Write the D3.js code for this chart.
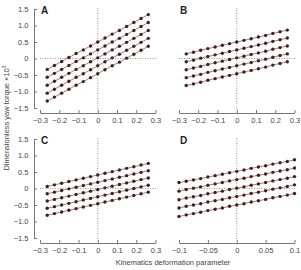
<!DOCTYPE html>
<html>
<head>
<meta charset="utf-8">
<script src="https://cdn.jsdelivr.net/npm/d3@7"></script>
<style>
    body { margin: 0; background: #fff; }
    svg { font-family: "Liberation Sans", Arial, sans-serif; }
    .axis path, .axis line { stroke: #777; }
    .axis text { fill: #444; font-size: 7.5px; }
    .ref { stroke: #999; stroke-dasharray: 1, 1.5; fill: none; }
    .fit { stroke: #e26a60; stroke-width: 1; fill: none; }
    .dot { fill: #2a2a2a; }
</style>
</head>
<body>
<svg width="301" height="270"></svg>
<script>
// x positions of the samples
var xWide = [-0.2625, -0.225, -0.1875, -0.15, -0.1125, -0.075, -0.0375, 0, 0.0375, 0.075, 0.1125, 0.15, 0.1875, 0.225, 0.2625];
var xNarrow = [-0.1, -0.0875, -0.075, -0.0625, -0.05, -0.0375, -0.025, -0.0125, 0, 0.0125, 0.025, 0.0375, 0.05, 0.0625, 0.075, 0.0875, 0.1];

var yTicks = [-1.5, -1.0, -0.5, 0, 0.5, 1.0, 1.5];
var xTicksWide = [-0.3, -0.2, -0.1, 0, 0.1, 0.2, 0.3];
var xTicksNarrow = [-0.1, -0.05, 0, 0.05, 0.1];

var seriesA = [
    [-0.33, -0.21, -0.09, 0.03, 0.15, 0.26, 0.38, 0.50, 0.62, 0.74, 0.85, 0.97, 1.09, 1.21, 1.33],
    [-0.57, -0.45, -0.33, -0.21, -0.09, 0.02, 0.14, 0.26, 0.38, 0.50, 0.61, 0.73, 0.85, 0.97, 1.09],
    [-0.81, -0.69, -0.57, -0.45, -0.33, -0.22, -0.10, 0.02, 0.14, 0.26, 0.37, 0.49, 0.61, 0.73, 0.85],
    [-1.05, -0.93, -0.81, -0.69, -0.57, -0.46, -0.34, -0.22, -0.10, 0.02, 0.13, 0.25, 0.37, 0.49, 0.61],
    [-1.29, -1.17, -1.05, -0.93, -0.81, -0.70, -0.58, -0.46, -0.34, -0.22, -0.11, 0.01, 0.13, 0.25, 0.37]
];
var seriesB = [
    [0.14, 0.19, 0.25, 0.30, 0.35, 0.40, 0.45, 0.50, 0.55, 0.60, 0.65, 0.70, 0.76, 0.81, 0.86],
    [-0.10, -0.05, 0.01, 0.06, 0.11, 0.16, 0.21, 0.26, 0.31, 0.36, 0.41, 0.46, 0.52, 0.57, 0.62],
    [-0.34, -0.29, -0.24, -0.18, -0.13, -0.08, -0.03, 0.02, 0.07, 0.12, 0.17, 0.22, 0.28, 0.33, 0.38],
    [-0.58, -0.53, -0.48, -0.42, -0.37, -0.32, -0.27, -0.22, -0.17, -0.12, -0.07, -0.02, 0.04, 0.09, 0.14],
    [-0.82, -0.77, -0.72, -0.66, -0.61, -0.56, -0.51, -0.46, -0.41, -0.36, -0.31, -0.26, -0.20, -0.15, -0.10]
];
var seriesC = [
    [0.06, 0.11, 0.16, 0.21, 0.26, 0.31, 0.36, 0.41, 0.46, 0.51, 0.56, 0.61, 0.66, 0.71, 0.76],
    [-0.16, -0.11, -0.06, -0.01, 0.04, 0.09, 0.14, 0.19, 0.24, 0.29, 0.34, 0.39, 0.44, 0.49, 0.54],
    [-0.38, -0.33, -0.28, -0.23, -0.18, -0.13, -0.08, -0.03, 0.02, 0.07, 0.12, 0.17, 0.22, 0.27, 0.32],
    [-0.60, -0.55, -0.50, -0.45, -0.40, -0.35, -0.30, -0.25, -0.20, -0.15, -0.10, -0.05, 0.00, 0.05, 0.10],
    [-0.81, -0.76, -0.71, -0.66, -0.61, -0.56, -0.51, -0.46, -0.41, -0.36, -0.31, -0.26, -0.21, -0.16, -0.11]
];
var seriesD = [
    [0.18, 0.22, 0.26, 0.30, 0.35, 0.39, 0.43, 0.48, 0.52, 0.56, 0.61, 0.65, 0.69, 0.74, 0.78, 0.82, 0.87],
    [-0.08, -0.03, 0.01, 0.05, 0.10, 0.14, 0.18, 0.23, 0.27, 0.31, 0.36, 0.40, 0.44, 0.49, 0.53, 0.57, 0.62],
    [-0.34, -0.29, -0.25, -0.21, -0.16, -0.12, -0.08, -0.03, 0.01, 0.05, 0.10, 0.14, 0.18, 0.23, 0.27, 0.31, 0.36],
    [-0.59, -0.54, -0.50, -0.46, -0.41, -0.37, -0.33, -0.28, -0.24, -0.20, -0.15, -0.11, -0.07, -0.02, 0.02, 0.06, 0.11],
    [-0.85, -0.80, -0.76, -0.72, -0.67, -0.63, -0.59, -0.54, -0.50, -0.46, -0.41, -0.37, -0.33, -0.28, -0.24, -0.20, -0.15]
];

var panels = [
    {label: "A", x: xWide, ys: seriesA, ticks: xTicksWide, dom: [-0.3, 0.3], left: 40, top: 9, yAxis: true},
    {label: "B", x: xWide, ys: seriesB, ticks: xTicksWide, dom: [-0.3, 0.3], left: 179, top: 9, yAxis: false},
    {label: "C", x: xWide, ys: seriesC, ticks: xTicksWide, dom: [-0.3, 0.3], left: 40, top: 139, yAxis: true},
    {label: "D", x: xNarrow, ys: seriesD, ticks: xTicksNarrow, dom: [-0.1, 0.1], left: 179, top: 139, yAxis: false}
];

var svg = d3.select("svg");
var plotW = 115.5, plotH = 99;

var fmtY = function(d) { return d === 0 ? "0" : d3.format(".1f")(d); };
var fmtX = function(d) { return d === 0 ? "0" : d3.format("~g")(d); };

panels.forEach(function(p) {
    var g = svg.append("g").attr("transform", "translate(" + p.left + "," + p.top + ")");

    var x = d3.scaleLinear().domain(p.dom).range([0, plotW]);
    var y = d3.scaleLinear().domain([-1.5, 1.5]).range([plotH, 0]);

    // reference lines
    g.append("line").attr("class", "ref")
        .attr("x1", x(p.dom[0])).attr("x2", x(p.dom[1]) + 1)
        .attr("y1", y(0)).attr("y2", y(0));
    g.append("line").attr("class", "ref")
        .attr("x1", x(0)).attr("x2", x(0))
        .attr("y1", y(1.5) - 1).attr("y2", y(-1.5) + 1);

    // axes
    g.append("g").attr("class", "axis")
        .attr("transform", "translate(0," + (plotH + 5) + ")")
        .call(d3.axisBottom(x).tickValues(p.ticks).tickFormat(fmtX)
            .tickSizeInner(-3).tickSizeOuter(0).tickPadding(4.5));
    if (p.yAxis) {
        g.append("g").attr("class", "axis")
            .attr("transform", "translate(-6,0)")
            .call(d3.axisLeft(y).tickValues(yTicks).tickFormat(fmtY)
                .tickSizeInner(-3).tickSizeOuter(0).tickPadding(5.5));
    }

    var line = d3.line()
        .x(function(d, i) { return x(p.x[i]); })
        .y(function(d) { return y(d); });

    p.ys.forEach(function(vals) {
        g.append("path").attr("class", "fit").attr("d", line(vals));
        g.selectAll(null)
            .data(vals)
            .enter()
            .append("circle")
            .attr("class", "dot")
            .attr("cx", function(d, i) { return x(p.x[i]); })
            .attr("cy", function(d) { return y(d); })
            .attr("r", 1.7);
    });

    g.append("text")
        .attr("x", 1).attr("y", 5)
        .style("font-size", "10px")
        .style("font-weight", "bold")
        .style("fill", "#222")
        .text(p.label);
});

svg.append("text")
    .attr("x", 173).attr("y", 265)
    .attr("text-anchor", "middle")
    .style("font-size", "7.5px")
    .style("fill", "#444")
    .text("Kinematics deformation parameter");

svg.append("text")
    .attr("transform", "translate(9,118) rotate(-90)")
    .attr("text-anchor", "middle")
    .style("font-size", "7.5px")
    .style("fill", "#444")
    .html("Dimensionless yaw torque \u00d710<tspan dy='-3' font-size='5px'>3</tspan>");
</script>
</body>
</html>
